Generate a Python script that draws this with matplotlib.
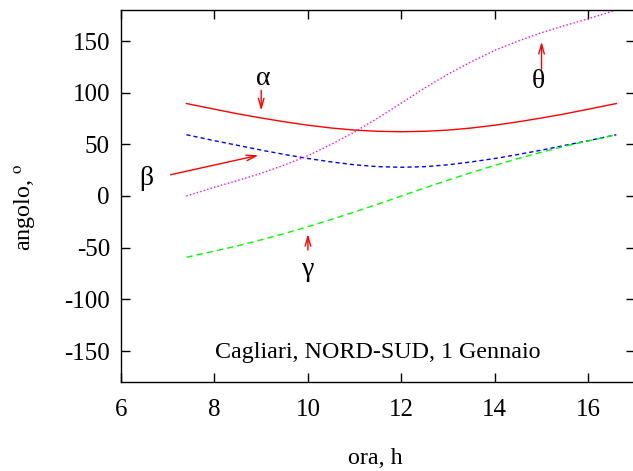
import matplotlib
matplotlib.use("Agg")
import matplotlib.pyplot as plt

plt.rcParams['font.family'] = ['Liberation Serif', 'DejaVu Serif']
plt.rcParams['mathtext.fontset'] = 'stix'
plt.rcParams['axes.unicode_minus'] = False

# ore del giorno
ora = [7.4, 8, 8.5, 9, 9.5, 10, 10.5, 11, 11.5, 12,
       12.5, 13, 13.5, 14, 14.5, 15, 15.5, 16, 16.6]
alpha = [89.5, 84, 79.5, 75.5, 71.8, 68.5, 65.8, 63.8, 62.6, 62.2,
         62.6, 63.8, 65.8, 68.5, 71.8, 75.5, 79.5, 84, 89.5]
beta = [59.3, 53.5, 49, 44.4, 40.2, 36.3, 33, 30.2, 28.4, 27.8,
        28.4, 30.2, 33, 36.3, 40.2, 44.4, 49, 53.5, 59.3]
gamma = [-59.3, -53.3, -48.2, -42.4, -36.3, -29.7, -22.7, -15.4, -7.8, 0,
         7.8, 15.4, 22.7, 29.7, 36.3, 42.4, 48.2, 53.3, 59.3]
theta = [0, 8.5, 15, 22, 30, 39, 50, 62, 75.5, 90,
         104.5, 118, 130, 141, 150, 158, 165, 171.5, 180]

fig = plt.figure(figsize=(6.33, 4.71), dpi=100)
ax = fig.add_axes([121/633, 89/471, 514/633, 372/471])

ax.plot(ora, alpha, color='#ff0000', lw=1.0)
ax.plot(ora, beta, color='#0000ff', lw=1.0, dashes=(3, 2.2))
ax.plot(ora, gamma, color='#00ff00', lw=1.0, dashes=(4.5, 3))
ax.plot(ora, theta, color='#ff00ff', lw=1.0, dashes=(1, 1.6))

ax.set_xlim(6, 17)
ax.set_ylim(-180, 180)
ax.set_xticks([6, 8, 10, 12, 14, 16])
ax.set_yticks([-150, -100, -50, 0, 50, 100, 150])
ax.tick_params(direction='in', length=6.5, width=1, top=True, right=True,
               labelsize=18)
ax.tick_params(axis='x', pad=12)
ax.tick_params(axis='y', pad=8)
for s in ax.spines.values():
    s.set_linewidth(1)

# frecce ed etichette
freccia = dict(arrowstyle='->,head_length=0.7,head_width=0.2', color='#ff0000', lw=1)
ax.annotate('', xy=(9, 80), xytext=(9, 105), arrowprops=freccia)
ax.text(9.05, 114, 'α', fontsize=20, ha='center', va='center')
ax.annotate('', xy=(9, 40), xytext=(7, 20), arrowprops=freccia)
ax.text(6.55, 17, 'β', fontsize=20, ha='center', va='center')
ax.annotate('', xy=(10, -34), xytext=(10, -55), arrowprops=freccia)
ax.text(10, -71, 'γ', fontsize=20, ha='center', va='center')
ax.annotate('', xy=(15, 152), xytext=(15, 120), arrowprops=freccia)
ax.text(14.93, 111, 'θ', fontsize=20, ha='center', va='center')

ax.text(11.5, -151, 'Cagliari, NORD-SUD, 1 Gennaio', fontsize=17.3,
        ha='center', va='center')

fig.text(375/633, 1 - 458/471, 'ora, h', fontsize=17.3, ha='center', va='center')
fig.text(26/633, 1 - 207/471, r'angolo, $^{\rm o}$', fontsize=17.3,
         ha='center', va='center', rotation=90)

fig.savefig('out.png', dpi=100)
